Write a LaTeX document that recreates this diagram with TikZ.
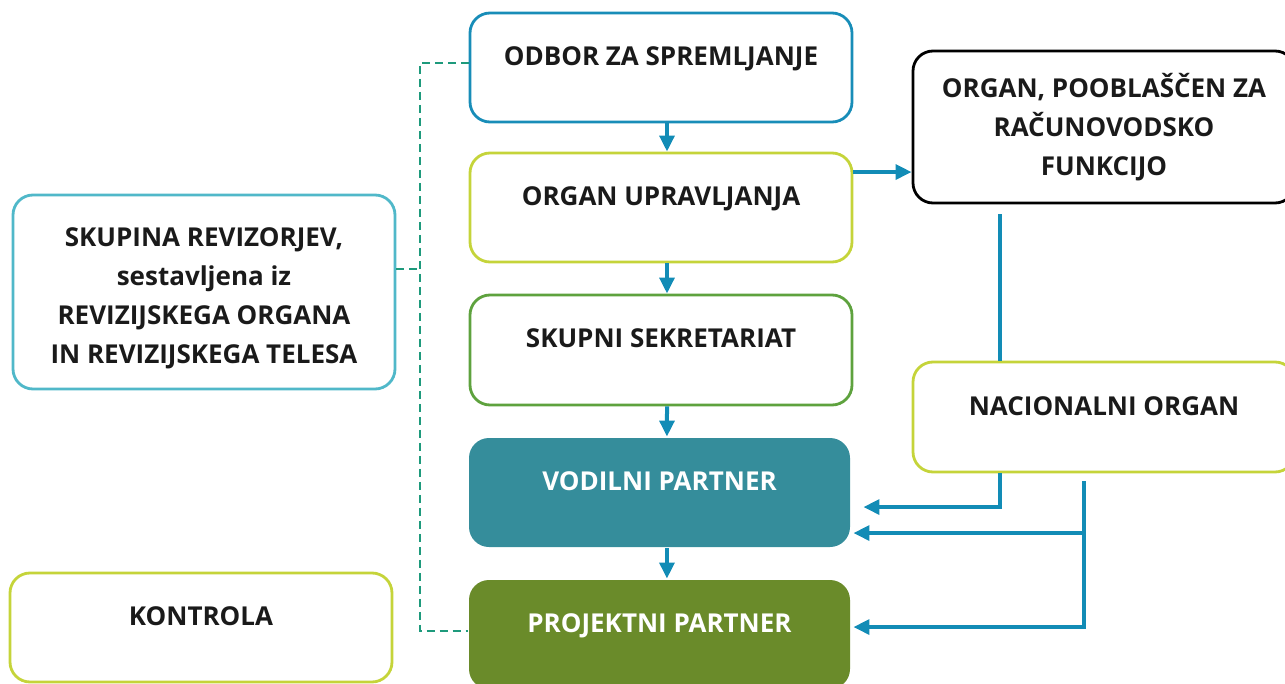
\documentclass[tikz,border=0pt]{standalone}
\usepackage{fontspec}
\IfFontExistsTF{Open Sans SemiBold}
  {\setmainfont{Open Sans}[BoldFont={Open Sans SemiBold}]}
  {\setmainfont{Open Sans}}
\usepackage{tikz}
\usetikzlibrary{arrows.meta}

\definecolor{arrowblue}{RGB}{18,140,182}
\definecolor{boxblue}{RGB}{24,141,184}
\definecolor{boxlime}{RGB}{197,212,58}
\definecolor{boxgreen}{RGB}{94,162,62}
\definecolor{boxcyan}{RGB}{80,184,201}
\definecolor{fillteal}{RGB}{53,141,155}
\definecolor{fillolive}{RGB}{106,139,42}
\definecolor{dashgreen}{RGB}{30,154,124}
\definecolor{textdark}{RGB}{26,26,26}

\tikzset{
  box/.style={draw, line width=2.1pt, rounded corners=15pt, fill=white,
    minimum width=286.5pt, minimum height=81.75pt, align=center,
    text=textdark, font=\bfseries\fontsize{19.5}{29.3}\selectfont},
  raised/.style={text height=13.5pt, text depth=16.5pt},
  solid box/.style={box, draw=none, text=white},
  flow/.style={draw=arrowblue, line width=3pt, -{Triangle[length=12pt,width=11pt]}},
  link/.style={draw=arrowblue, line width=3pt},
  dashline/.style={draw=dashgreen, line width=1.5pt, dash pattern={on 6pt off 3.75pt}}
}

\begin{document}
\begin{tikzpicture}[x=0.75pt,y=-0.75pt]
\useasboundingbox (0,0) rectangle (1285,684);
\clip (0,0) rectangle (1285,684);

% Text Node
\node [box, raised, draw=boxblue] (odbor) at (661,67.5) {ODBOR ZA SPREMLJANJE};
% Text Node
\node [box, raised, draw=boxlime] (upravljanje) at (661,207.5) {ORGAN UPRAVLJANJA};
% Text Node
\node [box, raised, draw=boxgreen, minimum height=82.5pt] (sekretariat) at (661,350) {SKUPNI SEKRETARIAT};
% Text Node
\node [solid box, raised, fill=fillteal, minimum width=285.75pt] (vodilni) at (659.5,492.5) {VODILNI PARTNER};
% Text Node
\node [solid box, raised, fill=fillolive, minimum width=285.75pt] (projektni) at (659.5,634.5) {PROJEKTNI PARTNER};
% Text Node
\node [box, draw=black, minimum height=114pt] (racun) at (1104,127) {ORGAN, POOBLAŠČEN ZA\\RAČUNOVODSKO\\FUNKCIJO};
% Text Node
\node [box, raised, draw=boxlime, minimum height=82.5pt] (nacionalni) at (1104,417) {NACIONALNI ORGAN};
% Text Node
\node [box, draw=boxcyan, minimum height=145.5pt] (skupina) at (204,292) {\rule{0pt}{23pt}SKUPINA REVIZORJEV,\\sestavljena iz\\REVIZIJSKEGA ORGANA\\IN REVIZIJSKEGA TELESA};
% Text Node
\node [box, raised, draw=boxlime] (kontrola) at (201,627.5) {KONTROLA};

% Connection
\draw [flow] ([xshift=4.5pt]odbor.south) -- ([xshift=4.5pt]upravljanje.north);
% Connection
\draw [flow] ([xshift=4.5pt]upravljanje.south) -- ([xshift=4.5pt]sekretariat.north);
% Connection
\draw [flow] ([xshift=4.5pt]sekretariat.south) -- ([xshift=5.6pt]vodilni.north);
% Connection
\draw [flow] ([xshift=5.6pt]vodilni.south) -- ([xshift=5.6pt]projektni.north);
% Connection
\draw [flow] ([yshift=26.6pt]upravljanje.east) coordinate (u1) -- (u1 -| racun.west);
% Connection
\draw [link] ([xshift=-78pt,yshift=-7.5pt]racun.south) -- ([xshift=-78pt]nacionalni.north);
% Connection
\coordinate (v1) at ([xshift=9pt,yshift=-10.9pt]vodilni.east);
\draw [flow] ([xshift=-78pt]nacionalni.south) |- (v1);
% Connection
\coordinate (v2) at ([xshift=1.5pt,yshift=-30.4pt]vodilni.east);
\coordinate (p1) at ([xshift=1.5pt,yshift=5.6pt]projektni.east);
\draw [flow] ([xshift=-15pt,yshift=-6pt]nacionalni.south) coordinate (n2) |- (p1);
\draw [flow] (n2 |- v2) -- (v2);
% Connection
\coordinate (d1) at ([yshift=3.4pt]odbor.west);
\coordinate (d2) at ([yshift=2.6pt]projektni.west);
\draw [dashline] (d1) -- ++(-49,0) coordinate (dc) |- (d2);
% Connection
\coordinate (s1) at ([yshift=17.3pt]skupina.east);
\draw [dashline] (s1) -- (s1 -| dc);

\end{tikzpicture}
\end{document}
